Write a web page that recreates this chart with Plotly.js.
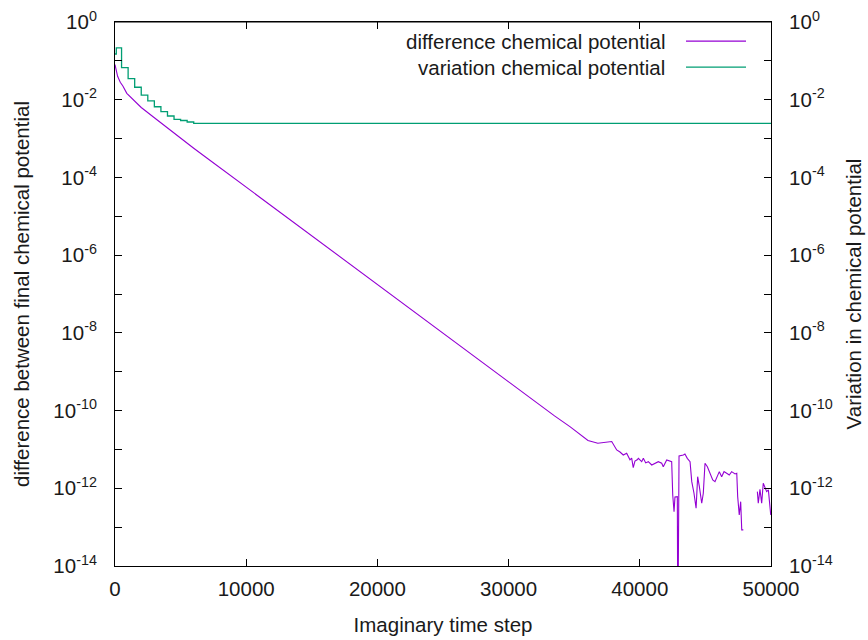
<!DOCTYPE html>
<html>
<head>
<meta charset="utf-8">
<script src="https://cdn.plot.ly/plotly-3.0.1.min.js"></script>
<style>
  html, body { margin: 0; padding: 0; background: #fff; }
  #chart { width: 868px; height: 640px; }
</style>
</head>
<body>
<div id="chart"></div>
<script>
// ---- data ----
const diffSteps = [0, 200, 400, 600, 900, 1500, 2000, 3000, 4000, 5000,
  6000, 7000, 8000, 9000, 10000, 12000, 14000, 16000, 18000, 20000,
  22000, 24000, 26000, 28000, 30000, 32000, 33500, 34700, 35300, 36050,
  36800, 37350, 37860, 38240, 38490, 38740, 39000, 39250, 39380, 39500,
  39630, 39800, 39890, 40145, 40270, 40450, 40650, 40910, 41160, 41410,
  41670, 41790, 42050, 42300, 42430, 42510, 42610, 42680, 42760, 42860,
  42900, 42990, 43320, 43440, 43620, 43830, 43960, 44130, 44290, 44410,
  44540, 44720, 44840, 44970, 45150, 45350, 45560, 45730, 45910, 46060,
  46240, 46420, 46620, 46820, 47000, 47260, 47390, 47460, 47580, 47690,
  47770, 47890, 48400, 48960, 49030, 49160, 49290, 49410, 49540, 49670,
  49800, 49870, 49980];
const diffValues = [0.08, 0.04, 0.028, 0.0225, 0.0146, 0.0090, 0.0063, 0.00343, 0.00187, 0.00100,
  5.64e-4, 3.17e-4, 1.78e-4, 1.0e-4, 5.6e-5, 1.76e-5, 5.56e-6, 1.75e-6, 5.52e-7, 1.74e-7,
  5.47e-8, 1.73e-8, 5.43e-9, 1.71e-9, 5.40e-10, 1.70e-10, 7.3e-11, 3.8e-11, 2.6e-11, 1.7e-11,
  1.44e-11, 1.55e-11, 1.6e-11, 9.7e-12, 8.6e-12, 7.2e-12, 8.0e-12, 5.4e-12, 6.0e-12, 3.4e-12,
  5.0e-12, 5.4e-12, 5.9e-12, 4.84e-12, 5.9e-12, 4.5e-12, 4.84e-12, 3.98e-12, 4.4e-12, 4.84e-12,
  4.4e-12, 3.6e-12, 5.36e-12, 5.14e-12, 4.84e-12, 6.75e-13, 2.5e-13, 6.0e-13, 6.1e-13, 6.1e-13,
  1e-16, 6.8e-12, 7.2e-12, 7.6e-12, 5.9e-12, 4.84e-12, 1.48e-12, 7.45e-13, 3.06e-13, 1.99e-12,
  1.10e-12, 4.12e-13, 7.45e-13, 4.4e-12, 3.6e-12, 2.43e-12, 1.64e-12, 1.48e-12, 1.99e-12, 2.68e-12,
  1.99e-12, 2.68e-12, 2.43e-12, 2.2e-12, 2.68e-12, 2.34e-12, 2.43e-12, 6.1e-13, 2.06e-13, 4.53e-13,
  8.5e-14, 8.5e-14, null, 8.2e-13, 4.12e-13, 9.4e-13, 4.12e-13, 1.35e-12, 1.10e-12, 8.2e-13,
  9.1e-13, 4.12e-13, 2.06e-13];

const varSteps = [0, 100, 500, 1000, 1500, 2000, 2500, 3000, 3500, 4000, 4500, 5000, 5500, 6000, 50000];
const varValues = [0.15, 0.215, 0.067, 0.0347, 0.0209, 0.0132, 0.0093, 0.0066, 0.00492, 0.00381, 0.00313, 0.00292, 0.00267, 0.00247, 0.00247];

const xTickVals = [0, 10000, 20000, 30000, 40000, 50000];
const xTickText = ['0', '10000', '20000', '30000', '40000', '50000'];
const yTickVals = [1, 1e-2, 1e-4, 1e-6, 1e-8, 1e-10, 1e-12, 1e-14];
const yTickText = ['10<sup>0</sup>', '10<sup>-2</sup>', '10<sup>-4</sup>', '10<sup>-6</sup>',
  '10<sup>-8</sup>', '10<sup>-10</sup>', '10<sup>-12</sup>', '10<sup>-14</sup>'];
const yMinorVals = [1e-1, 1e-3, 1e-5, 1e-7, 1e-9, 1e-11, 1e-13];

const seriesNames = ['difference chemical potential', 'variation chemical potential'];
const seriesColors = ['#9400d3', '#009e73'];

// ---- chart ----
const FONT = 'Liberation Sans, Arial, sans-serif';
const FS = 20.5;
const TXT = '#1a1a1a';
const traces = [
  { x: diffSteps, y: diffValues, mode: 'lines', name: seriesNames[0],
    line: { color: seriesColors[0], width: 1.1 }, yaxis: 'y', connectgaps: false },
  { x: varSteps, y: varValues, mode: 'lines', name: seriesNames[1],
    line: { color: seriesColors[1], width: 1.3, shape: 'hv' }, yaxis: 'y2' }
];

const yCommon = {
  type: 'log', range: [-14, 0], tickmode: 'array', tickvals: yTickVals, ticktext: yTickText,
  ticks: 'inside', ticklen: 7, tickwidth: 1, tickcolor: '#000',
  minor: { tickmode: 'array', tickvals: yMinorVals, ticks: 'inside', ticklen: 7, tickwidth: 1, tickcolor: '#000', showgrid: false },
  showgrid: false, zeroline: false, showline: true, linecolor: '#000', linewidth: 1,
  tickfont: { family: FONT, size: FS, color: TXT }, ticklabelstandoff: 13
};

const legendX = [0.8415, 0.8704, 0.9619];
const legendY = [0.965, 0.917];

const layout = {
  width: 868, height: 640,
  margin: { l: 115, r: 97, t: 22, b: 74 },
  paper_bgcolor: '#fff', plot_bgcolor: '#fff',
  showlegend: false,
  font: { family: FONT, size: FS, color: TXT },
  xaxis: {
    range: [0, 50000], tickmode: 'array', tickvals: xTickVals, ticktext: xTickText,
    ticks: 'inside', ticklen: 7, tickwidth: 1, tickcolor: '#000',
    showgrid: false, zeroline: false, showline: true, linecolor: '#000', linewidth: 1,
    mirror: 'ticks', tickfont: { family: FONT, size: FS, color: TXT }, ticklabelstandoff: 4,
    title: { text: 'Imaginary time step', font: { family: FONT, size: FS, color: TXT }, standoff: 19 }
  },
  yaxis: Object.assign({}, yCommon, {
    side: 'left',
    title: { text: 'difference between final chemical potential', font: { family: FONT, size: FS, color: TXT }, standoff: 18 }
  }),
  yaxis2: Object.assign({}, yCommon, {
    side: 'right', overlaying: 'y',
    title: { text: 'Variation in chemical potential', font: { family: FONT, size: FS, color: TXT }, standoff: 14 }
  }),
  shapes: [
    { type: 'line', xref: 'paper', yref: 'paper', x0: 0, x1: 1, y0: 1, y1: 1, line: { color: '#000', width: 1 } },
    { type: 'line', xref: 'paper', yref: 'paper', x0: legendX[1], x1: legendX[2], y0: legendY[0], y1: legendY[0], line: { color: seriesColors[0], width: 1.2 } },
    { type: 'line', xref: 'paper', yref: 'paper', x0: legendX[1], x1: legendX[2], y0: legendY[1], y1: legendY[1], line: { color: seriesColors[1], width: 1.3 } }
  ],
  annotations: [
    { xref: 'paper', yref: 'paper', x: legendX[0], y: legendY[0], xanchor: 'right', yanchor: 'middle', showarrow: false,
      text: seriesNames[0], font: { family: FONT, size: FS, color: TXT } },
    { xref: 'paper', yref: 'paper', x: legendX[0], y: legendY[1], xanchor: 'right', yanchor: 'middle', showarrow: false,
      text: seriesNames[1], font: { family: FONT, size: FS, color: TXT } }
  ]
};

Plotly.newPlot('chart', traces, layout, { displayModeBar: false, staticPlot: true });
</script>
</body>
</html>
